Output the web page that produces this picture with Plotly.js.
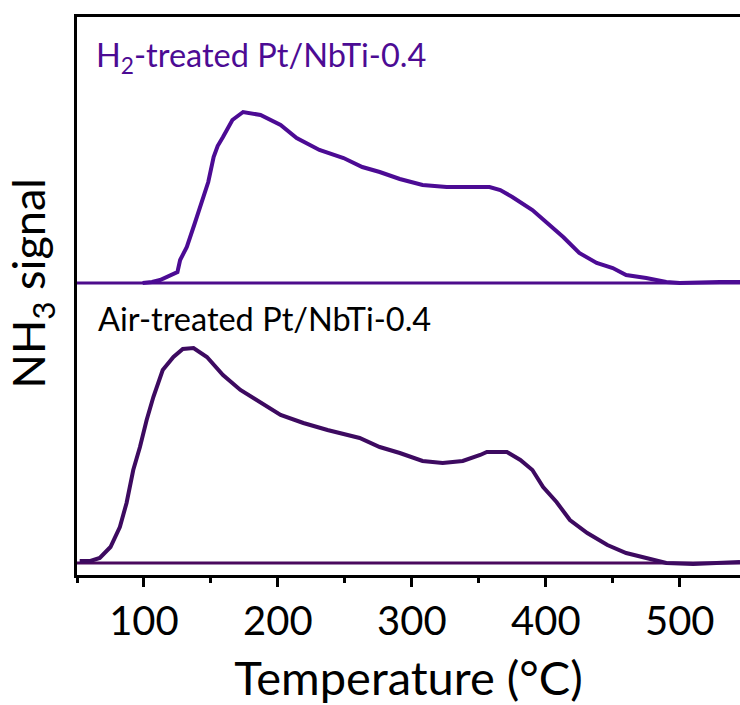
<!DOCTYPE html>
<html>
<head>
<meta charset="utf-8">
<script src="https://cdn.plot.ly/plotly-3.0.1.min.js"></script>
<style>html,body{margin:0;padding:0;background:#fff;}#chart{width:740px;height:705px;}</style>
</head>
<body>
<div id="chart"></div>
<script>
// Temperature (°C) and NH3 signal (a.u., above each baseline)
var h2Temp = [99, 106, 112, 119, 125, 127, 132, 138, 144, 148, 152, 155, 159, 166, 174, 179, 187, 202, 214, 231, 249, 263, 276, 291, 308, 326, 341, 358, 366, 375, 390, 401, 413, 425, 438, 450, 460, 475, 490, 500, 515, 530, 545];
var h2Signal = [0, 0.01, 0.03, 0.07, 0.11, 0.23, 0.36, 0.60, 0.83, 1.01, 1.26, 1.37, 1.46, 1.63, 1.71, 1.70, 1.68, 1.58, 1.45, 1.33, 1.25, 1.16, 1.11, 1.04, 0.98, 0.96, 0.96, 0.96, 0.93, 0.86, 0.73, 0.60, 0.46, 0.30, 0.20, 0.15, 0.08, 0.05, 0.01, 0, 0.01, 0.01, 0.01];

var airTemp = [52, 60, 67, 75, 82, 87, 92, 97, 102, 107, 114, 122, 129, 137, 147, 159, 172, 187, 202, 219, 237, 261, 276, 291, 308, 323, 338, 351, 356, 371, 381, 390, 398, 408, 418, 431, 446, 460, 475, 490, 510, 530, 545];
var airSignal = [0.02, 0.02, 0.05, 0.16, 0.36, 0.60, 0.93, 1.16, 1.43, 1.66, 1.93, 2.06, 2.14, 2.15, 2.06, 1.88, 1.73, 1.60, 1.48, 1.40, 1.33, 1.25, 1.16, 1.10, 1.02, 1.00, 1.02, 1.08, 1.11, 1.11, 1.03, 0.93, 0.76, 0.61, 0.43, 0.30, 0.18, 0.10, 0.05, 0.00, -0.01, 0, 0.01];

// vertical offsets (stacking) of the two traces
var h2Offset = 2.92;
var airOffset = 0.12;

var xRange = [50, 545];
var xTickVals = [100, 200, 300, 400, 500];
var xTickText = ['100', '200', '300', '400', '500'];

var h2Label = 'H<sub>2</sub>-treated Pt/NbTi-0.4';
var airLabel = 'Air-treated Pt/NbTi-0.4';
var xTitle = 'Temperature (°C)';
var yTitle = 'NH<sub>3</sub> signal';

var h2Color = '#4c0b94';
var airColor = '#3d0a60';

var traces = [
  {x: xRange, y: [h2Offset, h2Offset], mode: 'lines', line: {color: '#4d0c8c', width: 3}, hoverinfo: 'skip'},
  {x: xRange, y: [airOffset, airOffset], mode: 'lines', line: {color: '#4a0a5e', width: 3}, hoverinfo: 'skip'},
  {x: h2Temp, y: h2Signal.map(function(v){return v + h2Offset;}), mode: 'lines', line: {color: h2Color, width: 4}},
  {x: airTemp, y: airSignal.map(function(v){return v + airOffset;}), mode: 'lines', line: {color: airColor, width: 4}}
];

var font = 'Lato, "Open Sans", sans-serif';

var layout = {
  width: 740, height: 705,
  margin: {l: 77, r: 0, t: 17, b: 130},
  paper_bgcolor: '#fff', plot_bgcolor: '#fff',
  showlegend: false,
  font: {family: font, color: '#000'},
  xaxis: {
    range: xRange, showgrid: false, zeroline: false,
    showline: true, linecolor: '#000', linewidth: 3, mirror: true,
    ticks: 'outside', ticklen: 9, tickwidth: 3, tickcolor: '#000',
    tickvals: xTickVals, ticktext: xTickText,
    tickfont: {family: font, size: 40, color: '#000'},
    minor: {dtick: 50, tick0: 50, ticks: 'outside', ticklen: 5, tickwidth: 3, tickcolor: '#000'},
    title: {text: xTitle, font: {family: font, size: 47, color: '#000'}, standoff: 22}
  },
  yaxis: {
    range: [0, 5.58], showgrid: false, zeroline: false,
    showline: true, linecolor: '#000', linewidth: 3, mirror: true,
    ticks: '', showticklabels: false
  },
  annotations: [
    {text: yTitle, xref: 'paper', yref: 'paper', x: -0.069, y: 0.523, xanchor: 'center', yanchor: 'middle',
     textangle: -90, showarrow: false, font: {family: font, size: 45, color: '#000'}},
    {text: h2Label, xref: 'paper', yref: 'paper', x: 0.026, y: 0.972, xanchor: 'left', yanchor: 'top', showarrow: false,
     font: {family: font, size: 32.5, color: h2Color}},
    {text: airLabel, xref: 'paper', yref: 'paper', x: 0.028, y: 0.498, xanchor: 'left', yanchor: 'top', showarrow: false,
     font: {family: font, size: 32.5, color: '#000'}}
  ]
};

Plotly.newPlot('chart', traces, layout, {staticPlot: true, displayModeBar: false});
</script>
</body>
</html>
